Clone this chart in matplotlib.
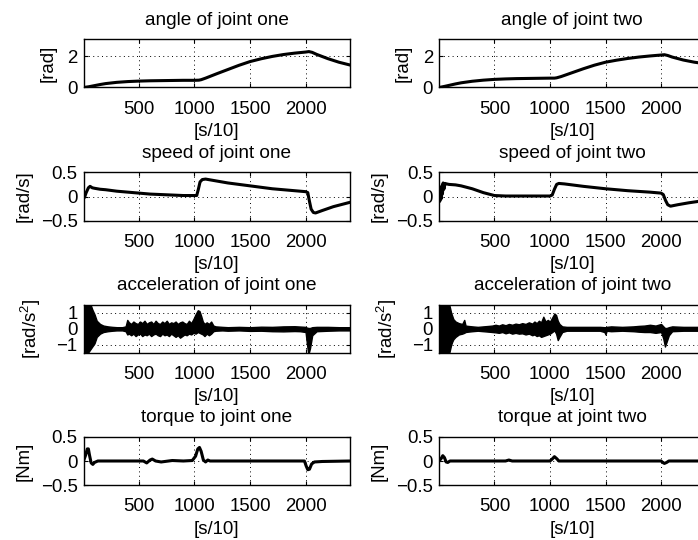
import matplotlib
matplotlib.use("Agg")
import matplotlib.pyplot as plt

plt.rcParams['font.family'] = ['Liberation Sans', 'DejaVu Sans']
plt.rcParams['mathtext.fontset'] = 'custom'
plt.rcParams['mathtext.rm'] = 'Liberation Sans'
plt.rcParams['mathtext.it'] = 'Liberation Sans:italic'
plt.rcParams['font.size'] = 13.4

# ---------------- data ----------------
titles = [["angle of joint one", "angle of joint two"],
          ["speed of joint one", "speed of joint two"],
          ["acceleration of joint one", "acceleration of joint two"],
          ["torque to joint one", "torque at joint two"]]
ylabels = ["[rad]", "[rad/s]", "[rad/s$^2$]", "[Nm]"]
xlabel = "[s/10]"
xticks = [500, 1000, 1500, 2000]
yticks = [[0, 2], [-0.5, 0, 0.5], [-1, 0, 1], [-0.5, 0, 0.5]]
yticklabels = [["0", "2"], ["\u22120.5", "0", "0.5"], ["\u22121", "0", "1"],
               ["\u22120.5", "0", "0.5"]]
ylims = [(0, 3.1), (-0.5, 0.5), (-1.5, 1.5), (-0.5, 0.5)]
xlim = (1, 2400)

angle_x = [1, 50, 100, 150, 200, 300, 400, 500, 600, 700, 800, 900, 1000, 1040, 1060,
           1100, 1200, 1300, 1400, 1500, 1600, 1700, 1800, 1900, 2000, 2030, 2060, 2100,
           2200, 2300, 2400]
angle1 = [0, 0.05, 0.12, 0.19, 0.25, 0.33, 0.38, 0.41, 0.43, 0.44, 0.45, 0.46, 0.46, 0.47,
          0.5, 0.6, 0.88, 1.15, 1.42, 1.66, 1.84, 1.99, 2.11, 2.2, 2.27, 2.3, 2.25, 2.12,
          1.85, 1.62, 1.44]
angle2 = [0, 0.07, 0.15, 0.23, 0.3, 0.4, 0.47, 0.52, 0.55, 0.57, 0.58, 0.59, 0.6, 0.6,
          0.62, 0.7, 0.95, 1.2, 1.43, 1.62, 1.75, 1.86, 1.95, 2.02, 2.08, 2.1, 2.05, 1.95,
          1.76, 1.62, 1.52]

speed1_x = [1, 10, 25, 45, 60, 80, 100, 150, 200, 300, 400, 500, 600, 700, 800, 900, 1000,
            1020, 1035, 1050, 1070, 1100, 1150, 1300, 1500, 1700, 1900, 2000, 2020, 2035,
            2050, 2070, 2090, 2150, 2250, 2400]
speed1 = [0.0, -0.02, 0.08, 0.18, 0.21, 0.18, 0.17, 0.15, 0.14, 0.11, 0.09, 0.07, 0.05,
          0.04, 0.03, 0.02, 0.02, 0.02, 0.15, 0.3, 0.35, 0.36, 0.34, 0.28, 0.22, 0.16, 0.12,
          0.1, 0.08, -0.1, -0.26, -0.33, -0.34, -0.29, -0.21, -0.12]

speed2_x = [1, 8, 14, 20, 26, 32, 38, 45, 55, 70, 90, 150, 200, 300, 400, 500, 600, 800,
            1000, 1020, 1040, 1060, 1080, 1130, 1300, 1500, 1700, 1900, 2000, 2020, 2040,
            2060, 2085, 2150, 2250, 2400]
speed2 = [0, -0.1, 0.15, -0.05, 0.22, 0.05, 0.28, 0.15, 0.27, 0.26, 0.25, 0.24, 0.22, 0.16,
          0.08, 0.02, 0.01, 0.01, 0.01, 0.03, 0.15, 0.25, 0.27, 0.26, 0.21, 0.16, 0.12, 0.09,
          0.07, 0.04, -0.08, -0.17, -0.2, -0.17, -0.13, -0.08]

# acceleration: the noisy trace is drawn as its upper / lower envelope
acc1_x = [1, 10, 30, 60, 80, 100, 120, 150, 180, 220,
          260, 300, 350, 380, 395, 410, 430, 450, 470, 490,
          510, 530, 550, 570, 590, 610, 630, 650, 670, 690,
          710, 730, 750, 770, 790, 810, 830, 850, 870, 890,
          910, 930, 950, 970, 990, 1010, 1030, 1045, 1060, 1075,
          1090, 1110, 1130, 1150, 1170, 1190, 1250, 1300, 1400, 1500,
          1600, 1700, 1800, 1900, 1950, 2000, 2010, 2025, 2040, 2060,
          2100, 2200, 2300, 2400]
acc1_hi = [0.2, 1.6, 1.6, 1.6, 1.2, 0.9, 0.5, 0.3, 0.2, 0.15,
           0.12, 0.1, 0.1, 0.15, 0.55, 0.4, 0.3, 0.45, 0.35, 0.3,
           0.45, 0.35, 0.5, 0.3, 0.4, 0.45, 0.3, 0.5, 0.35, 0.3,
           0.45, 0.35, 0.5, 0.3, 0.4, 0.35, 0.45, 0.3, 0.4, 0.45,
           0.35, 0.3, 0.5, 0.35, 0.6, 0.9, 1.15, 1.1, 0.8, 0.45,
           0.3, 0.4, 0.3, 0.45, 0.2, 0.15, 0.12, 0.1, 0.12, 0.1,
           0.13, 0.12, 0.15, 0.16, 0.14, 0.12, 0.08, 0.05, 0.05, 0.1,
           0.12, 0.12, 0.1, 0.1]
acc1_lo = [-0.2, -1.6, -1.6, -1.3, -1.1, -0.9, -0.5, -0.3, -0.2, -0.15,
           -0.12, -0.1, -0.1, -0.15, -0.35, -0.3, -0.4, -0.3, -0.45, -0.35,
           -0.3, -0.45, -0.35, -0.4, -0.3, -0.45, -0.35, -0.3, -0.4, -0.45,
           -0.3, -0.4, -0.35, -0.45, -0.3, -0.4, -0.5, -0.4, -0.55, -0.45,
           -0.35, -0.4, -0.3, -0.35, -0.25, -0.3, -0.2, -0.25, -0.3, -0.35,
           -0.45, -0.3, -0.4, -0.3, -0.15, -0.12, -0.1, -0.12, -0.1, -0.13,
           -0.12, -0.15, -0.16, -0.14, -0.15, -0.2, -0.8, -1.6, -1.2, -0.4,
           -0.15, -0.12, -0.1, -0.1]

acc2_x = [1, 90, 100, 110, 120, 130, 150, 180, 210, 228,
          240, 260, 300, 350, 400, 450, 480, 510, 540, 570,
          600, 630, 660, 690, 720, 750, 780, 810, 840, 860,
          880, 900, 920, 940, 960, 980, 1000, 1020, 1040, 1055,
          1070, 1085, 1110, 1150, 1200, 1300, 1450, 1490, 1500, 1510,
          1550, 1650, 1750, 1800, 1850, 1900, 1950, 2000, 2020, 2035,
          2050, 2070, 2100, 2200, 2400]
acc2_hi = [1.6, 1.6, 1.3, 1.0, 0.8, 0.6, 0.45, 0.35, 0.3, 0.55,
           0.2, 0.18, 0.15, 0.12, 0.15, 0.18, 0.2, 0.25, 0.2, 0.28,
           0.22, 0.3, 0.25, 0.32, 0.28, 0.35, 0.3, 0.4, 0.32, 0.45,
           0.35, 0.5, 0.4, 0.75, 0.45, 0.55, 0.45, 0.7, 0.95, 0.85,
           0.5, 0.3, 0.15, 0.12, 0.12, 0.12, 0.12, 0.1, 0.1, 0.12,
           0.15, 0.12, 0.15, 0.18, 0.2, 0.25, 0.2, 0.3, 0.15, 0.05,
           0.05, 0.1, 0.15, 0.12, 0.12]
acc2_lo = [-1.6, -1.6, -1.3, -1.0, -0.8, -0.65, -0.5, -0.35, -0.3, -0.25,
           -0.2, -0.18, -0.15, -0.12, -0.15, -0.18, -0.2, -0.22, -0.25, -0.2,
           -0.28, -0.22, -0.3, -0.25, -0.3, -0.28, -0.35, -0.3, -0.4, -0.35,
           -0.45, -0.4, -0.5, -0.45, -0.4, -0.35, -0.3, -0.2, -0.1, -0.3,
           -0.7, -0.5, -0.2, -0.12, -0.12, -0.12, -0.12, -0.2, -0.35, -0.12,
           -0.15, -0.12, -0.15, -0.18, -0.2, -0.2, -0.25, -0.2, -0.6, -1.1,
           -0.8, -0.4, -0.15, -0.12, -0.12]

torque1_x = [1, 20, 35, 45, 55, 70, 85, 100, 130, 200, 400, 540, 570, 600, 620, 650, 700,
             800, 900, 980, 1010, 1030, 1045, 1060, 1080, 1100, 1120, 1140, 1170, 1300, 1600,
             1900, 1990, 2005, 2020, 2035, 2055, 2080, 2150, 2400]
torque1 = [0, 0.12, 0.25, 0.25, 0.12, -0.04, -0.07, -0.03, 0, 0.0, 0.0, 0.0, -0.04, 0.02,
           0.04, 0.0, -0.02, 0.01, 0.0, 0.01, 0.1, 0.25, 0.28, 0.2, 0.02, -0.02, 0.02, 0.0,
           0.0, 0.0, 0.0, 0.0, 0.0, -0.1, -0.18, -0.17, -0.06, -0.02, -0.01, 0.0]

torque2_x = [1, 20, 35, 50, 65, 80, 100, 200, 600, 630, 660, 1000, 1020, 1040, 1060, 1080,
             1100, 1500, 2000, 2015, 2030, 2050, 2070, 2400]
torque2 = [0, 0.05, 0.11, 0.07, -0.02, -0.03, 0.0, 0.0, 0.0, 0.02, 0.0, 0.0, 0.04, 0.09,
           0.05, 0.0, 0.0, 0.0, 0.0, -0.03, -0.05, -0.03, 0.0, 0.0]

# ---------------- layout ----------------
W, H = 698, 540
fig = plt.figure(figsize=(W / 100, H / 100), dpi=100)
col_left = [83.5, 439.0]
ax_w = 266.5
row_bottom = [87.5, 220.7, 353.0, 485.2]
ax_h = 48.4
ylabel_off = [-27, -51, -40, -51]

LW = 2.2


def style(ax, r):
    ax.set_xlim(*xlim)
    ax.set_ylim(*ylims[r])
    ax.set_xticks(xticks)
    ax.set_xticklabels([str(t) for t in xticks])
    ax.set_yticks(yticks[r])
    ax.set_yticklabels(yticklabels[r])
    ax.tick_params(direction='in', top=True, right=True, length=3, width=0.8)
    ax.tick_params(axis='x', pad=9.5)
    ax.tick_params(axis='y', pad=4.3)
    ax.grid(True, color='black', linestyle=(0, (1, 3.5)), linewidth=0.7)
    for s in ax.spines.values():
        s.set_linewidth(1.0)
    ax.set_xlabel(xlabel, labelpad=3.7, fontsize=13.4)
    ax.set_ylabel(ylabels[r], fontsize=13.4)
    ax.yaxis.set_label_coords(ylabel_off[r] / ax_w, 0.5)


axes = []
for r in range(4):
    row = []
    for c in range(2):
        ax = fig.add_axes([col_left[c] / W, 1 - row_bottom[r] / H, ax_w / W, ax_h / H])
        row.append(ax)
    axes.append(row)

axes[0][0].plot(angle_x, angle1, color='black', lw=LW)
axes[0][1].plot(angle_x, angle2, color='black', lw=LW)
axes[1][0].plot(speed1_x, speed1, color='black', lw=LW)
axes[1][1].plot(speed2_x, speed2, color='black', lw=LW)
axes[2][0].fill_between(acc1_x, acc1_lo, acc1_hi, color='black', lw=1.0)
axes[2][1].fill_between(acc2_x, acc2_lo, acc2_hi, color='black', lw=1.0)
axes[3][0].plot(torque1_x, torque1, color='black', lw=LW)
axes[3][1].plot(torque2_x, torque2, color='black', lw=LW)

for r in range(4):
    for c in range(2):
        ax = axes[r][c]
        style(ax, r)
        ax.set_title(titles[r][c], pad=10.5, fontsize=13.7)

fig.savefig("out.png", dpi=100)
